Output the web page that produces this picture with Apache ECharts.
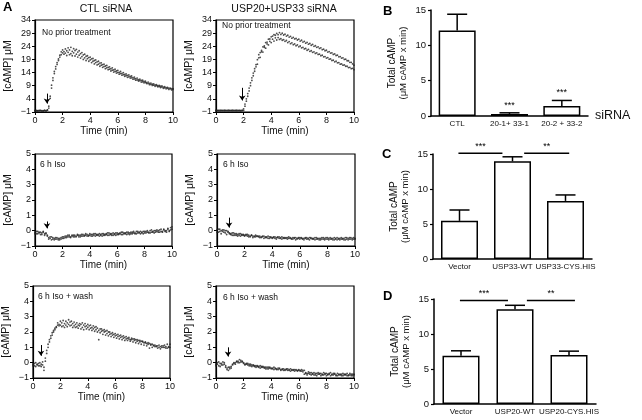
<!DOCTYPE html>
<html>
<head>
<meta charset="utf-8">
<script src="https://cdn.jsdelivr.net/npm/echarts@6/dist/echarts.min.js"></script>
<style>
  html, body { margin: 0; padding: 0; background: #fff; }
  #chart { width: 642px; height: 420px; }
</style>
</head>
<body>
<div id="chart"></div>
<script>
// sample times (min), one reading every 0.1 min
const times = [
  0, 0.1, 0.2, 0.3, 0.4, 0.5, 0.6, 0.7, 0.8, 0.9,
  1, 1.1, 1.2, 1.3, 1.4, 1.5, 1.6, 1.7, 1.8, 1.9,
  2, 2.1, 2.2, 2.3, 2.4, 2.5, 2.6, 2.7, 2.8, 2.9,
  3, 3.1, 3.2, 3.3, 3.4, 3.5, 3.6, 3.7, 3.8, 3.9,
  4, 4.1, 4.2, 4.3, 4.4, 4.5, 4.6, 4.7, 4.8, 4.9,
  5, 5.1, 5.2, 5.3, 5.4, 5.5, 5.6, 5.7, 5.8, 5.9,
  6, 6.1, 6.2, 6.3, 6.4, 6.5, 6.6, 6.7, 6.8, 6.9,
  7, 7.1, 7.2, 7.3, 7.4, 7.5, 7.6, 7.7, 7.8, 7.9,
  8, 8.1, 8.2, 8.3, 8.4, 8.5, 8.6, 8.7, 8.8, 8.9,
  9, 9.1, 9.2, 9.3, 9.4, 9.5, 9.6, 9.7, 9.8, 9.9,
  10
]

// CTL siRNA, no prior treatment (two recordings)
const ctlNoPrior1 = [
  -0.4, -0.6, -0.5, -0.4, -0.5, -0.6, -0.5, -0.4, -0.5, -0.3,
  0.5, 4.2, 8.1, 11.0, 13.6, 15.4, 17.1, 18.6, 19.9, 20.8,
  21.5, 22.0, 21.4, 22.3, 21.7, 22.6, 21.2, 22.1, 21.5, 22.4,
  21.0, 21.8, 20.6, 21.2, 20.1, 20.7, 19.6, 20.2, 19.3, 19.7,
  18.8, 19.2, 18.3, 18.6, 17.8, 18.1, 17.2, 17.6, 16.8, 17.0,
  16.3, 16.5, 15.8, 16.0, 15.3, 15.5, 14.9, 15.0, 14.4, 14.6,
  14.0, 14.1, 13.6, 13.7, 13.2, 13.3, 12.8, 12.9, 12.4, 12.5,
  12.0, 12.1, 11.6, 11.7, 11.2, 11.3, 10.9, 11.0, 10.5, 10.6,
  10.2, 10.2, 9.8, 9.9, 9.5, 9.6, 9.2, 9.3, 9.0, 9.0,
  8.7, 8.8, 8.5, 8.5, 8.2, 8.3, 8.0, 8.1, 7.8, 7.9,
  7.6
]
const ctlNoPrior2 = [
  -0.6, -0.4, -0.6, -0.5, -0.4, -0.5, -0.6, -0.4, -0.6, -0.2,
  1.2, 5.0, 9.2, 12.0, 14.4, 16.3, 17.8, 19.2, 20.6, 21.9,
  22.6, 21.0, 23.0, 20.5, 23.4, 20.8, 23.6, 20.4, 23.1, 20.3,
  22.8, 19.9, 22.3, 19.5, 21.6, 19.0, 21.0, 18.6, 20.4, 18.3,
  19.9, 17.8, 19.4, 17.3, 18.8, 16.9, 18.3, 16.4, 17.7, 16.0,
  17.2, 15.5, 16.7, 15.1, 16.2, 14.6, 15.8, 14.2, 15.3, 13.8,
  14.8, 13.4, 14.4, 13.0, 14.0, 12.6, 13.5, 12.2, 13.1, 11.9,
  12.7, 11.5, 12.3, 11.1, 11.9, 10.8, 11.5, 10.4, 11.1, 10.1,
  10.7, 9.8, 10.4, 9.4, 10.0, 9.1, 9.7, 8.8, 9.4, 8.6,
  9.1, 8.3, 8.9, 8.0, 8.6, 7.8, 8.4, 7.6, 8.1, 7.4,
  7.9
]

// USP20+USP33 siRNA, no prior treatment
const uspNoPrior1 = [
  -0.3, -0.5, -0.4, -0.6, -0.4, -0.5, -0.3, -0.5, -0.4, -0.6,
  -0.4, -0.5, -0.3, -0.5, -0.4, -0.6, -0.4, -0.5, -0.4, -0.5,
  -0.4, 1.2, 3.1, 5.0, 7.0, 9.0, 11.0, 12.8, 14.5, 16.2,
  17.2, 19.6, 19.8, 21.9, 21.8, 23.6, 23.3, 24.9, 24.5, 25.9,
  25.4, 26.7, 26.0, 27.2, 26.4, 27.3, 26.6, 26.9, 26.3, 26.5,
  25.9, 26.2, 25.4, 25.8, 25.0, 25.3, 24.6, 24.9, 24.2, 24.5,
  23.8, 24.1, 23.4, 23.6, 23.0, 23.2, 22.5, 22.8, 22.1, 22.3,
  21.7, 21.9, 21.3, 21.5, 20.9, 21.0, 20.4, 20.6, 20.0, 20.1,
  19.5, 19.7, 19.1, 19.2, 18.6, 18.7, 18.1, 18.3, 17.7, 17.8,
  17.2, 17.3, 16.8, 16.9, 16.4, 16.4, 15.9, 16.0, 15.5, 15.6,
  15.1
]
const uspNoPrior2 = [
  -0.6, -0.4, -0.5, -0.3, -0.5, -0.4, -0.6, -0.4, -0.5, -0.3,
  -0.5, -0.4, -0.6, -0.4, -0.5, -0.3, -0.5, -0.4, -0.6, -0.3,
  0.2, 2.0, 4.0, 6.0, 8.1, 10.1, 12.0, 13.8, 15.5, 17.0,
  18.9, 20.8, 21.6, 22.4, 23.8, 24.1, 25.4, 25.6, 26.7, 26.8,
  27.6, 27.9, 28.4, 28.2, 28.9, 28.4, 29.2, 28.5, 29.0, 28.3,
  28.6, 27.9, 28.2, 27.5, 27.8, 27.1, 27.4, 26.8, 27.0, 26.4,
  26.7, 26.0, 26.3, 25.6, 25.9, 25.2, 25.5, 24.8, 25.1, 24.4,
  24.7, 24.0, 24.2, 23.6, 23.8, 23.2, 23.4, 22.7, 22.9, 22.3,
  22.5, 21.8, 22.0, 21.4, 21.5, 20.9, 21.1, 20.5, 20.6, 20.0,
  20.1, 19.5, 19.6, 19.0, 19.1, 18.5, 18.5, 17.9, 17.9, 17.3,
  16.8
]

// CTL siRNA, 6 h Iso
const ctlIso1 = [
  -0.1, -0.2, -0.05, -0.15, -0.1, -0.25, -0.1, -0.2, -0.15, -0.3,
  -0.45, -0.5, -0.4, -0.55, -0.5, -0.45, -0.55, -0.5, -0.6, -0.45,
  -0.5, -0.4, -0.45, -0.35, -0.4, -0.3, -0.4, -0.35, -0.3, -0.4,
  -0.35, -0.3, -0.4, -0.3, -0.35, -0.25, -0.35, -0.3, -0.25, -0.35,
  -0.3, -0.25, -0.35, -0.3, -0.2, -0.3, -0.25, -0.35, -0.25, -0.2,
  -0.3, -0.25, -0.2, -0.3, -0.15, -0.25, -0.2, -0.3, -0.2, -0.15,
  -0.25, -0.2, -0.15, -0.25, -0.1, -0.2, -0.15, -0.25, -0.1, -0.15,
  -0.2, -0.1, -0.15, -0.2, -0.05, -0.15, -0.1, -0.2, -0.1, -0.05,
  -0.15, -0.05, -0.1, -0.15, 0.0, -0.1, -0.05, -0.15, 0.0, -0.05,
  -0.1, 0.05, -0.05, -0.1, 0.05, -0.05, 0.0, 0.1, -0.05, 0.05,
  0.1
]
const ctlIso2 = [
  -0.2, -0.05, -0.2, -0.1, -0.25, -0.15, -0.05, -0.3, -0.2, -0.35,
  -0.55, -0.4, -0.6, -0.45, -0.6, -0.55, -0.45, -0.6, -0.5, -0.55,
  -0.4, -0.5, -0.35, -0.45, -0.3, -0.4, -0.45, -0.3, -0.4, -0.3,
  -0.4, -0.25, -0.3, -0.4, -0.25, -0.35, -0.3, -0.2, -0.35, -0.3,
  -0.2, -0.35, -0.25, -0.2, -0.35, -0.25, -0.3, -0.2, -0.3, -0.35,
  -0.2, -0.3, -0.25, -0.15, -0.3, -0.2, -0.3, -0.15, -0.25, -0.3,
  -0.15, -0.25, -0.2, -0.1, -0.25, -0.15, -0.2, -0.1, -0.2, -0.25,
  -0.1, -0.2, -0.05, -0.15, -0.2, -0.05, -0.15, -0.05, -0.15, -0.2,
  -0.05, -0.15, 0.0, -0.1, -0.15, 0.05, -0.1, 0.0, -0.1, 0.05,
  0.0, -0.1, 0.1, -0.05, 0.1, 0.0, -0.1, 0.15, 0.0, 0.2,
  0.25
]

// USP20+USP33 siRNA, 6 h Iso
const uspIso1 = [
  0.05, -0.1, 0.1, 0.0, -0.05, 0.05, -0.15, 0.0, -0.1, -0.2,
  -0.25, -0.15, -0.3, -0.2, -0.3, -0.25, -0.2, -0.35, -0.25, -0.3,
  -0.3, -0.25, -0.35, -0.3, -0.4, -0.3, -0.35, -0.4, -0.3, -0.35,
  -0.4, -0.35, -0.45, -0.4, -0.35, -0.45, -0.4, -0.5, -0.4, -0.45,
  -0.45, -0.4, -0.5, -0.45, -0.4, -0.5, -0.45, -0.4, -0.5, -0.45,
  -0.5, -0.45, -0.4, -0.5, -0.55, -0.45, -0.5, -0.45, -0.55, -0.5,
  -0.45, -0.5, -0.55, -0.5, -0.45, -0.55, -0.5, -0.45, -0.5, -0.55,
  -0.5, -0.45, -0.55, -0.5, -0.6, -0.5, -0.45, -0.55, -0.5, -0.45,
  -0.55, -0.5, -0.45, -0.55, -0.5, -0.6, -0.5, -0.45, -0.55, -0.5,
  -0.45, -0.55, -0.5, -0.6, -0.45, -0.5, -0.55, -0.45, -0.5, -0.55,
  -0.5
]
const uspIso2 = [
  -0.1, 0.1, -0.05, -0.2, 0.05, -0.1, 0.0, -0.25, -0.05, -0.15,
  -0.2, -0.3, -0.15, -0.3, -0.2, -0.35, -0.3, -0.2, -0.3, -0.25,
  -0.35, -0.3, -0.25, -0.4, -0.35, -0.3, -0.45, -0.35, -0.4, -0.35,
  -0.35, -0.45, -0.4, -0.35, -0.5, -0.4, -0.45, -0.35, -0.5, -0.4,
  -0.5, -0.45, -0.4, -0.55, -0.45, -0.4, -0.5, -0.55, -0.45, -0.5,
  -0.45, -0.55, -0.5, -0.45, -0.5, -0.55, -0.45, -0.6, -0.5, -0.45,
  -0.55, -0.45, -0.5, -0.6, -0.5, -0.45, -0.55, -0.6, -0.45, -0.5,
  -0.55, -0.6, -0.45, -0.55, -0.5, -0.6, -0.55, -0.45, -0.6, -0.55,
  -0.45, -0.6, -0.55, -0.5, -0.6, -0.45, -0.55, -0.6, -0.5, -0.6,
  -0.55, -0.5, -0.6, -0.45, -0.55, -0.6, -0.45, -0.55, -0.6, -0.45,
  -0.55
]

// CTL siRNA, 6 h Iso + wash
const ctlWash1 = [
  -0.1, -0.2, 0.0, -0.15, -0.05, -0.2, -0.1, 0.05, -0.3, 0.3,
  0.8, 1.2, 1.5, 1.75, 1.95, 2.1, 2.25, 2.35, 2.45, 2.5,
  2.45, 2.6, 2.4, 2.55, 2.45, 2.6, 2.5, 2.65, 2.45, 2.55,
  2.4, 2.5, 2.35, 2.45, 2.4, 2.5, 2.3, 2.45, 2.35, 2.4,
  2.3, 2.4, 2.25, 2.3, 2.2, 2.3, 2.15, 2.25, 2.1, 2.2,
  2.05, 2.1, 2.0, 2.05, 1.9, 2.0, 1.85, 1.9, 1.8, 1.85,
  1.75, 1.8, 1.7, 1.75, 1.65, 1.7, 1.6, 1.65, 1.55, 1.6,
  1.55, 1.5, 1.5, 1.55, 1.45, 1.5, 1.4, 1.45, 1.35, 1.4,
  1.35, 1.3, 1.3, 1.25, 1.2, 1.25, 1.15, 1.2, 1.1, 1.15,
  1.05, 1.1, 1.0, 1.05, 1.0, 1.1, 1.0, 1.05, 0.95, 1.0,
  1.0
]
const ctlWash2 = [
  -0.2, -0.05, -0.25, -0.1, -0.2, 0.0, -0.25, -0.15, -0.5, 0.1,
  0.6, 1.0, 1.35, 1.6, 1.8, 2.0, 2.15, 2.3, 2.6, 2.4,
  2.7, 2.35, 2.75, 2.3, 2.7, 2.35, 2.8, 2.4, 2.7, 2.3,
  2.65, 2.3, 2.6, 2.25, 2.55, 2.2, 2.6, 2.15, 2.55, 2.2,
  2.5, 2.15, 2.45, 2.1, 2.4, 2.05, 2.35, 2.0, 1.5, 1.95,
  2.2, 1.85, 2.15, 1.8, 2.1, 1.75, 2.0, 1.7, 1.95, 1.65,
  1.9, 1.6, 1.85, 1.55, 1.8, 1.5, 1.75, 1.45, 1.7, 1.45,
  1.65, 1.4, 1.6, 1.35, 1.55, 1.3, 1.5, 1.25, 1.45, 1.2,
  1.4, 1.15, 1.35, 1.1, 1.3, 0.95, 1.2, 1.0, 1.15, 1.05,
  1.1, 0.95, 1.15, 0.9, 1.1, 1.0, 1.15, 0.95, 1.2, 1.05,
  1.2
]

// USP20+USP33 siRNA, 6 h Iso + wash
const uspWash1 = [
  -0.1, 0.0, -0.2, -0.05, -0.15, 0.05, -0.1, -0.2, -0.45, -0.3,
  -0.4, -0.25, -0.1, -0.05, 0.0, 0.05, 0.1, 0.0, 0.15, 0.05,
  -0.05, -0.1, -0.05, -0.15, -0.1, -0.2, -0.15, -0.2, -0.25, -0.2,
  -0.25, -0.3, -0.2, -0.3, -0.25, -0.35, -0.3, -0.4, -0.3, -0.35,
  -0.35, -0.4, -0.3, -0.4, -0.45, -0.35, -0.4, -0.45, -0.4, -0.5,
  -0.45, -0.4, -0.5, -0.45, -0.4, -0.5, -0.45, -0.55, -0.45, -0.5,
  -0.5, -0.55, -0.45, -0.5, -0.75, -0.65, -0.7, -0.6, -0.75, -0.65,
  -0.7, -0.65, -0.8, -0.7, -0.65, -0.75, -0.7, -0.8, -0.65, -0.75,
  -0.7, -0.8, -0.75, -0.65, -0.8, -0.7, -0.75, -0.85, -0.7, -0.8,
  -0.75, -0.85, -0.7, -0.8, -0.75, -0.85, -0.8, -0.7, -0.85, -0.75,
  -0.8
]
const uspWash2 = [
  -0.2, -0.1, 0.05, -0.25, -0.05, -0.15, 0.0, -0.3, -0.35, -0.5,
  -0.3, -0.35, -0.15, 0.0, -0.1, 0.1, 0.0, 0.2, 0.05, 0.1,
  0.0, -0.15, -0.1, -0.05, -0.2, -0.1, -0.25, -0.15, -0.2, -0.3,
  -0.2, -0.25, -0.35, -0.25, -0.3, -0.3, -0.4, -0.3, -0.4, -0.3,
  -0.4, -0.35, -0.45, -0.35, -0.4, -0.45, -0.35, -0.5, -0.45, -0.4,
  -0.5, -0.45, -0.4, -0.5, -0.55, -0.45, -0.5, -0.45, -0.5, -0.55,
  -0.45, -0.5, -0.55, -0.6, -0.5, -0.7, -0.8, -0.7, -0.65, -0.8,
  -0.75, -0.8, -0.7, -0.85, -0.75, -0.7, -0.85, -0.75, -0.8, -0.7,
  -0.85, -0.75, -0.7, -0.85, -0.75, -0.8, -0.7, -0.8, -0.85, -0.75,
  -0.8, -0.75, -0.85, -0.75, -0.8, -0.7, -0.85, -0.8, -0.75, -0.85,
  -0.75
]

// isoproterenol addition arrows: time, arrow top, arrow tip (μM)
const arrowTime = [0.87, 1.9, 0.87, 0.87, 0.58, 0.87]
const arrowTop = [6, 8.2, 0.6, 0.85, 1.15, 1.0]
const arrowTip = [2.2, 3.4, 0.15, 0.2, 0.45, 0.4]

// panel B
const catB = ['CTL', '20-1+ 33-1', '20-2 + 33-2']
const meanB = [12.1, 0.3, 1.4]
const upperB = [14.4, 0.45, 2.2]
const starsB = ['', '***', '***']

// panel C
const catC = ['Vector', 'USP33-WT', 'USP33-CYS.HIS']
const meanC = [5.45, 13.95, 8.3]
const upperC = [7.0, 14.6, 9.15]

// panel D
const catD = ['Vector', 'USP20-WT', 'USP20-CYS.HIS']
const meanD = [6.9, 13.55, 7.0]
const upperD = [7.6, 14.1, 7.55]

// significance bars: category start, category end, level, label
const sigC = [[-0.02, 0.81, 15.1, '***'], [1.22, 2.07, 15.1, '**']]
const sigD = [[-0.02, 0.87, 14.8, '***'], [1.22, 2.11, 14.8, '**']]

const FONT = '"Liberation Sans", Arial, sans-serif'
const chart = echarts.init(document.getElementById('chart'), null, { renderer: 'canvas' })

const timeSets = [
  [ctlNoPrior1, ctlNoPrior2], [uspNoPrior1, uspNoPrior2],
  [ctlIso1, ctlIso2], [uspIso1, uspIso2],
  [ctlWash1, ctlWash2], [uspWash1, uspWash2]
]
const timeGrids = [
  { left: 35, top: 20, width: 138, height: 92 },
  { left: 216, top: 20, width: 138, height: 92 },
  { left: 35, top: 154, width: 137, height: 92 },
  { left: 217, top: 154, width: 138, height: 92 },
  { left: 33, top: 286, width: 137, height: 92 },
  { left: 216, top: 286, width: 138, height: 92 }
]
const barGrids = [
  { left: 431, top: 10, width: 157, height: 106 },
  { left: 433, top: 154, width: 159, height: 105 },
  { left: 434, top: 299, width: 162, height: 105 }
]

const minus = v => String(v).replace('-', '\u2212')
const black = { color: '#000' }

const grid = []
const xAxis = []
const yAxis = []
const series = []

timeGrids.forEach((g, i) => {
  grid.push({ ...g, show: true, borderColor: '#000', borderWidth: 1.2, outerBoundsMode: 'none' })
  const big = i < 2
  xAxis.push({
    gridIndex: i, type: 'value', min: 0, max: 10, interval: 2,
    name: 'Time (min)', nameLocation: 'middle', nameGap: 13,
    nameTextStyle: { fontSize: 10, fontWeight: 'normal', color: '#111', fontFamily: FONT },
    axisLine: { show: true, onZero: false, lineStyle: { color: '#000', width: 1.2 } },
    axisTick: { show: true, length: 3, lineStyle: black },
    axisLabel: { fontSize: 9, color: '#111', fontFamily: FONT, margin: 4, showMinLabel: true, showMaxLabel: true },
    splitLine: { show: false }
  })
  yAxis.push({
    gridIndex: i, type: 'value', min: -1, max: big ? 34 : 5, interval: big ? 5 : 1,
    name: '[cAMP] \u03bcM', nameLocation: 'middle', nameGap: 21, nameRotate: 90,
    nameTextStyle: { fontSize: 10.5, fontWeight: 'normal', color: '#111', fontFamily: FONT },
    axisLine: { show: true, onZero: false, lineStyle: { color: '#000', width: 1.2 } },
    axisTick: { show: true, length: 3, lineStyle: black },
    axisLabel: { fontSize: 9, color: '#111', fontFamily: FONT, margin: 4, formatter: minus, showMinLabel: true, showMaxLabel: true },
    splitLine: { show: false }
  })
  timeSets[i].forEach((rep, r) => {
    const s = {
      type: 'scatter', xAxisIndex: i, yAxisIndex: i, silent: true, animation: false,
      symbolSize: 1.8, itemStyle: { color: '#222' },
      data: times.map((t, k) => [t, rep[k]])
    }
    if (r === 0) {
      s.markLine = {
        silent: true, animation: false, symbol: ['none', 'arrow'], symbolSize: 5,
        lineStyle: { color: '#000', width: 1, type: 'solid' }, label: { show: false },
        data: [[{ coord: [arrowTime[i], arrowTop[i]] }, { coord: [arrowTime[i], arrowTip[i]] }]]
      }
    }
    series.push(s)
  })
})

const barSets = [
  { cats: catB, mean: meanB, upper: upperB, stars: starsB, sig: [] },
  { cats: catC, mean: meanC, upper: upperC, stars: ['', '', ''], sig: sigC },
  { cats: catD, mean: meanD, upper: upperD, stars: ['', '', ''], sig: sigD }
]

barSets.forEach((b, j) => {
  const i = 6 + j
  grid.push({ ...barGrids[j], outerBoundsMode: 'none' })
  xAxis.push({
    gridIndex: i, type: 'category', data: b.cats,
    axisLine: { show: true, onZero: false, lineStyle: { color: '#000', width: 1.5 } },
    axisTick: { show: false },
    axisLabel: { interval: 0, fontSize: 8, color: '#111', fontFamily: FONT, margin: 4, hideOverlap: false },
    splitLine: { show: false }
  })
  yAxis.push({
    gridIndex: i, type: 'value', min: 0, max: 15, interval: 5,
    name: '{a|Total cAMP}\n{b|(\u03bcM cAMP x min)}', nameLocation: 'middle', nameGap: 22, nameRotate: 90,
    nameTextStyle: {
      color: '#111', fontFamily: FONT,
      rich: {
        a: { fontSize: 10, fontFamily: FONT, color: '#111', lineHeight: 11 },
        b: { fontSize: 9.5, fontFamily: FONT, color: '#111', lineHeight: 11 }
      }
    },
    axisLine: { show: true, lineStyle: { color: '#000', width: 1.5 } },
    axisTick: { show: true, length: 3, lineStyle: { color: '#000', width: 1.2 } },
    axisLabel: { fontSize: 9.5, color: '#111', fontFamily: FONT, margin: 5, showMinLabel: true, showMaxLabel: true },
    splitLine: { show: false }
  })
  series.push({
    type: 'bar', xAxisIndex: i, yAxisIndex: i, silent: true, animation: false,
    barWidth: 37, data: b.mean,
    itemStyle: { color: '#fff', borderColor: '#000', borderWidth: 1.5 }
  })
  series.push({
    type: 'custom', xAxisIndex: i, yAxisIndex: i, silent: true, animation: false, z: 5,
    data: b.mean.map((v, k) => [k, v, b.upper[k]]),
    encode: { x: 0, y: 1 },
    renderItem: (params, api) => {
      const p0 = api.coord([api.value(0), api.value(1)])
      const p1 = api.coord([api.value(0), api.value(2)])
      const half = 10
      const st = { stroke: '#000', lineWidth: 1.5 }
      const children = [
        { type: 'line', shape: { x1: p0[0], y1: p0[1], x2: p1[0], y2: p1[1] }, style: st },
        { type: 'line', shape: { x1: p1[0] - half, y1: p1[1], x2: p1[0] + half, y2: p1[1] }, style: st }
      ]
      const star = b.stars[params.dataIndex]
      if (star) {
        children.push({
          type: 'text', x: p1[0], y: p1[1] - 3,
          style: { text: star, fill: '#000', font: '9px ' + FONT, textAlign: 'center', textVerticalAlign: 'bottom', align: 'center', verticalAlign: 'bottom' }
        })
      }
      return { type: 'group', children }
    }
  })
  if (b.sig.length) {
    series.push({
      type: 'custom', xAxisIndex: i, yAxisIndex: i, silent: true, animation: false, z: 5,
      data: b.sig.map(s => [0, s[0], s[1], s[2]]),
      encode: { x: 0, y: 3 },
      renderItem: (params, api) => {
        const base = api.coord([0, api.value(3)])
        const band = api.size([1, 0])[0]
        const x1 = base[0] + api.value(1) * band
        const x2 = base[0] + api.value(2) * band
        const y = base[1]
        return {
          type: 'group',
          children: [
            { type: 'line', shape: { x1, y1: y, x2, y2: y }, style: { stroke: '#000', lineWidth: 1.5 } },
            {
              type: 'text', x: (x1 + x2) / 2, y: y - 2,
              style: { text: b.sig[params.dataIndex][3], fill: '#000', font: '9px ' + FONT, textAlign: 'center', textVerticalAlign: 'bottom', align: 'center', verticalAlign: 'bottom' }
            }
          ]
        }
      }
    })
  }
})

const txt = (text, x, y, size, opts = {}) => ({
  type: 'text', x, y, silent: true,
  style: {
    text, fill: opts.bold ? '#000' : '#111', font: (opts.bold ? 'bold ' : 'normal ') + size + 'px ' + FONT,
    textAlign: opts.align || 'left', textVerticalAlign: 'middle',
    align: opts.align || 'left', verticalAlign: 'middle'
  }
})

const graphic = [
  txt('A', 3, 7.5, 13, { bold: true }),
  txt('B', 383, 11, 13, { bold: true }),
  txt('C', 382, 154.5, 13, { bold: true }),
  txt('D', 383, 296, 13, { bold: true }),
  txt('CTL siRNA', 106, 9, 10.5, { align: 'center' }),
  txt('USP20+USP33 siRNA', 284, 9, 10.5, { align: 'center' }),
  txt('No prior treatment', 42, 33, 8.5),
  txt('No prior treatment', 222, 25.5, 8.5),
  txt('6 h Iso', 40, 165, 8.5),
  txt('6 h Iso', 223, 165, 8.5),
  txt('6 h Iso + wash', 38, 297, 8.5),
  txt('6 h Iso + wash', 223, 298, 8.5),
  txt('siRNA', 595, 116, 12.5)
]

chart.setOption({
  animation: false,
  textStyle: { fontFamily: FONT },
  grid, xAxis, yAxis, series, graphic
})

window.addEventListener('resize', () => chart.resize())
</script>
</body>
</html>
